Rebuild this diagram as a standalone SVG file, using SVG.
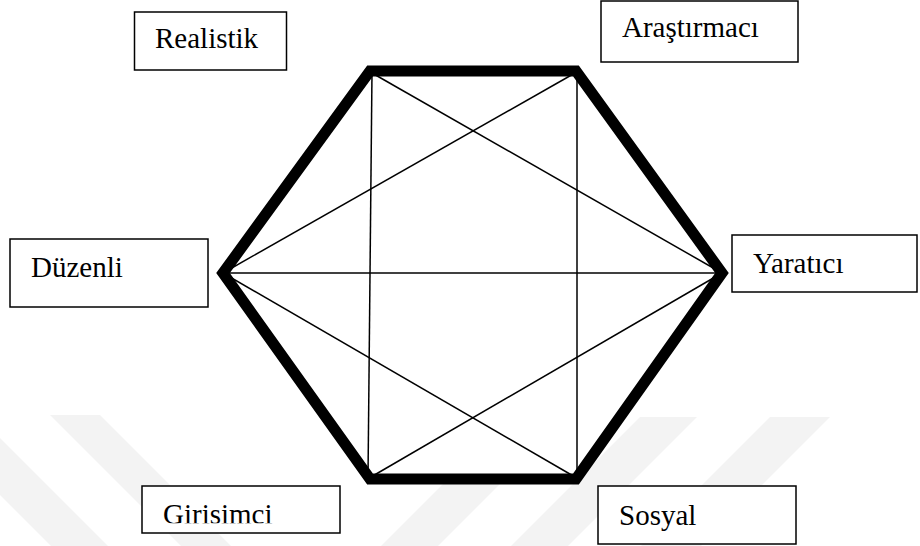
<svg xmlns="http://www.w3.org/2000/svg" width="920" height="546" viewBox="0 0 920 546">
  <style>
    .wm { fill: #f3f3f3; stroke: none; }
    .box { fill: #ffffff; stroke: #000000; stroke-width: 1.5; }
    .lbl { font-family: "Liberation Serif", "Times New Roman", serif; font-size: 29px; fill: #000000; }
    .hex { fill: #ffffff; stroke: #000000; stroke-width: 11; stroke-linejoin: miter; stroke-miterlimit: 10; }
    .thin { stroke: #000000; stroke-width: 1.5; fill: none; }
  </style>
  <defs>
    <clipPath id="clipGiri">
      <rect x="142" y="486" width="198" height="37.2"/>
    </clipPath>
  </defs>
  <rect width="920" height="546" fill="#ffffff"/>
  <g id="watermark">
    <polygon class="wm" points="50,415 100,415 231,546 181,546"/>
    <polygon class="wm" points="-80,415 -23,415 108,546 51,546"/>
    <polygon class="wm" points="640,417 697,417 568,546 511,546"/>
    <polygon class="wm" points="770,417 830,417 701,546 641,546"/>
    <polygon class="wm" points="510,417 567,417 438,546 381,546"/>
  </g>
  <g id="hexagon">
    <polygon class="hex" points="223,273 370,71 576,71 722,273 576,479 370,479"/>
  </g>
  <g id="connectors">
    <line class="thin" x1="372" y1="72" x2="368" y2="478"/>
    <line class="thin" x1="577" y1="72" x2="577" y2="478"/>
    <line class="thin" x1="372" y1="73" x2="722" y2="273"/>
    <line class="thin" x1="575" y1="73" x2="223" y2="273"/>
    <line class="thin" x1="223" y1="273" x2="722" y2="273"/>
    <line class="thin" x1="223" y1="273" x2="575" y2="477"/>
    <line class="thin" x1="722" y1="273" x2="371" y2="477"/>
  </g>
  <g id="realistik">
    <rect class="box" x="134.5" y="12" width="152" height="58"/>
    <text class="lbl" x="155" y="48">Realistik</text>
  </g>
  <g id="arastirmaci">
    <rect class="box" x="601" y="1" width="197" height="61"/>
    <text class="lbl" x="622" y="37">Araştırmacı</text>
  </g>
  <g id="duzenli">
    <rect class="box" x="10" y="239" width="198" height="68"/>
    <text class="lbl" x="31" y="277">Düzenli</text>
  </g>
  <g id="yaratici">
    <rect class="box" x="732" y="235" width="185" height="57"/>
    <text class="lbl" x="753" y="273">Yaratıcı</text>
  </g>
  <g id="girisimci">
    <rect class="box" x="142" y="486" width="198" height="47"/>
    <text class="lbl" x="163" y="524" clip-path="url(#clipGiri)">Girisimci</text>
  </g>
  <g id="sosyal">
    <rect class="box" x="598" y="486" width="198" height="58"/>
    <text class="lbl" x="619" y="525">Sosyal</text>
  </g>
</svg>
